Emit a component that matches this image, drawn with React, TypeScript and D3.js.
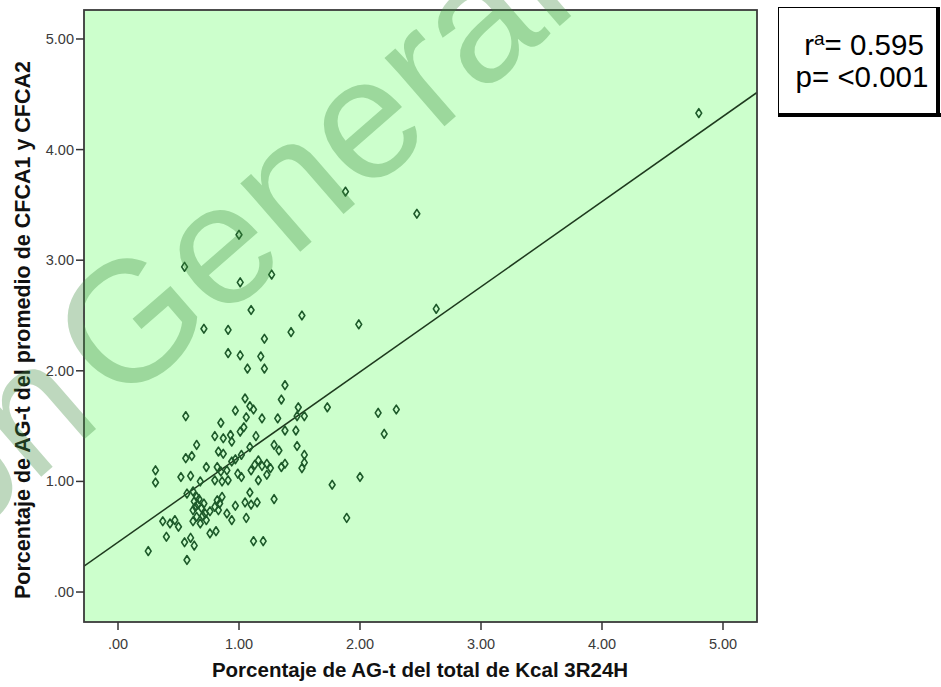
import React from "react";
import * as d3 from "d3";

const xValues = [4.80,2.47,1.88,2.63,1.99,2.15,2.30,2.20,2.00,1.77,1.89,1.00,0.55,1.27,1.01,1.10,1.52,0.71,0.91,1.43,1.21,0.91,1.01,1.18,1.07,1.21,0.56,0.85,0.80,0.87,0.93,0.94,0.97,0.65,0.83,0.87,0.56,0.61,0.94,0.31,0.73,0.82,0.85,0.90,1.38,1.05,1.35,1.09,1.12,1.49,1.73,1.06,1.19,1.32,1.48,1.54,1.04,1.01,1.38,1.47,1.14,1.48,1.29,1.33,1.09,1.02,1.54,1.38,1.35,1.16,1.13,1.19,1.23,1.26,1.10,1.52,0.97,1.54,0.99,1.02,1.16,1.23,1.09,1.29,1.05,1.10,1.15,0.97,1.06,0.94,1.12,1.20,0.31,0.52,0.60,0.68,0.80,0.86,0.91,0.57,0.62,0.65,0.63,0.66,0.62,0.69,0.72,0.65,0.62,0.73,0.68,0.76,0.82,0.84,0.80,0.83,0.86,0.90,0.37,0.43,0.47,0.50,0.40,0.55,0.60,0.63,0.76,0.81,0.25,0.57,0.67,0.70,0.64,0.71];
const yValues = [4.33,3.42,3.62,2.56,2.42,1.62,1.65,1.43,1.04,0.97,0.67,3.23,2.94,2.87,2.80,2.55,2.50,2.38,2.37,2.35,2.29,2.16,2.14,2.13,2.02,2.02,1.59,1.53,1.41,1.39,1.42,1.36,1.64,1.33,1.27,1.25,1.21,1.23,1.18,1.10,1.13,1.13,1.09,1.10,1.87,1.75,1.74,1.68,1.65,1.67,1.67,1.58,1.57,1.57,1.59,1.59,1.49,1.45,1.46,1.46,1.41,1.32,1.33,1.28,1.31,1.24,1.24,1.16,1.13,1.19,1.15,1.14,1.16,1.12,1.10,1.12,1.20,1.17,1.07,1.04,1.01,1.06,0.90,0.84,0.81,0.79,0.81,0.78,0.67,0.65,0.46,0.46,0.99,1.04,1.05,1.00,1.01,1.00,1.01,0.89,0.91,0.86,0.82,0.79,0.74,0.76,0.71,0.68,0.64,0.65,0.62,0.73,0.83,0.80,0.77,0.74,0.86,0.71,0.64,0.62,0.65,0.59,0.50,0.45,0.49,0.42,0.53,0.55,0.37,0.29,0.84,0.69,0.77,0.80];

const xTicks = [0, 1, 2, 3, 4, 5];
const yTicks = [0, 1, 2, 3, 4, 5];
const xTickLabels = [".00", "1.00", "2.00", "3.00", "4.00", "5.00"];
const yTickLabels = [".00", "1.00", "2.00", "3.00", "4.00", "5.00"];
const fitIntercept = 0.45;
const fitSlope = 0.77;
const xTitle = "Porcentaje de AG-t del total de Kcal 3R24H";
const yTitle = "Porcentaje de AG-t del promedio de CFCA1 y CFCA2";
const statLines = ["= 0.595", "p= <0.001"];

export default function App() {
  const W = 941, H = 687;
  const left = 84, right = 757, top = 10, bottom = 622;
  const x = d3.scaleLinear().domain([-0.281, 5.281]).range([left, right]);
  const y = d3.scaleLinear().domain([-0.271, 5.262]).range([bottom, top]);
  const fx0 = x.domain()[0], fx1 = x.domain()[1];
  const line = d3.line<number>().x((d) => x(d)).y((d) => y(fitIntercept + fitSlope * d));
  const font = "Arial, 'Liberation Sans', sans-serif";
  const mark = "#1d5a2a";
  const diamond = "M0,-4.4 L2.9,0 L0,4.4 L-2.9,0 Z";
  return (
    <svg width={W} height={H} style={{ position: "absolute", left: 0, top: 0, background: "#fff" }}>
      <defs>
        <clipPath id="plotclip">
          <rect x={left} y={top} width={right - left} height={bottom - top} />
        </clipPath>
      </defs>
      <rect x={left} y={top} width={right - left} height={bottom - top} fill="#ccffcc" />
      <g clipPath="url(#plotclip)">
        <path d={line([fx0, fx1]) || ""} stroke="#1e3a1e" strokeWidth={1.5} fill="none" />
        {xValues.map((xv, i) => (
          <path key={i} d={diamond} transform={`translate(${x(xv)},${y(yValues[i])})`} fill="none" stroke={mark} strokeWidth={1.6} strokeLinejoin="round" />
        ))}
      </g>
      <rect x={left} y={top} width={right - left} height={bottom - top} fill="none" stroke="#3a3a3a" strokeWidth={1.8} />
      {xTicks.map((t, i) => (
        <g key={"x" + i}>
          <line x1={x(t)} x2={x(t)} y1={bottom} y2={bottom + 8} stroke="#333" strokeWidth={1.5} />
          <text x={x(t)} y={bottom + 27} textAnchor="middle" fontFamily={font} fontSize={14.5} fill="#3a3a3a">{xTickLabels[i]}</text>
        </g>
      ))}
      {yTicks.map((t, i) => (
        <g key={"y" + i}>
          <line x1={left - 8} x2={left} y1={y(t)} y2={y(t)} stroke="#333" strokeWidth={1.5} />
          <text x={left - 10} y={y(t) + 5} textAnchor="end" fontFamily={font} fontSize={14.5} fill="#3a3a3a">{yTickLabels[i]}</text>
        </g>
      ))}
      <text x={420} y={677} textAnchor="middle" fontFamily={font} fontSize={20.5} fontWeight="bold" fill="#111">{xTitle}</text>
      <text transform={`translate(30,330) rotate(-90)`} textAnchor="middle" fontFamily={font} fontSize={21.5} fontWeight="bold" fill="#111">{yTitle}</text>
      <g>
        <rect x={778.5} y={7.5} width={160} height={107} fill="#fff" stroke="#000" strokeWidth={1} />
        <line x1={778} x2={941} y1={115} y2={115} stroke="#000" strokeWidth={4} />
        <line x1={938} x2={938} y1={7} y2={117} stroke="#000" strokeWidth={4} />
        <text x={864} y={55} textAnchor="middle" fontFamily={font} fontSize={29.5} fill="#000">
          <tspan>r</tspan>
          <tspan fontSize={19} dy={-10}>a</tspan>
          <tspan dy={10}>{statLines[0]}</tspan>
        </text>
        <text x={862} y={87} textAnchor="middle" fontFamily={font} fontSize={29.5} fill="#000">{statLines[1]}</text>
      </g>
      <g transform="translate(118,410) rotate(-41)" opacity={0.33} fill="#3c8c3c" fontFamily={font} fontSize={172}>
        <text x={-18} textAnchor="end">Dirección</text>
        <text x={0}>General de Bibliotecas</text>
      </g>
    </svg>
  );
}
